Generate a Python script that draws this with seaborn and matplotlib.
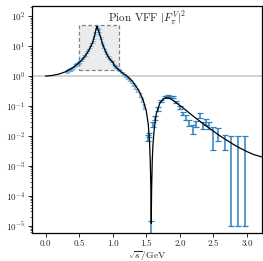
import numpy as np
import pandas as pd
import matplotlib
matplotlib.use("Agg")
import matplotlib.pyplot as plt
import matplotlib.patches as mpatches
import seaborn as sns

# ---- model curve ----
curve_x = [0.0, 0.1, 0.2, 0.3, 0.4, 0.5, 0.55, 0.6, 0.65, 0.7, 0.73, 0.75, 0.765,
           0.775, 0.78, 0.79, 0.8, 0.85, 0.9, 0.95, 1.0, 1.015, 1.02, 1.03, 1.05, 1.1,
           1.15, 1.2, 1.25, 1.3, 1.35, 1.4, 1.45, 1.5, 1.53, 1.55, 1.56, 1.57, 1.575,
           1.58, 1.59, 1.6, 1.62, 1.65, 1.7, 1.75, 1.8, 1.85, 1.9, 2.0, 2.1, 2.2, 2.3,
           2.4, 2.5, 2.6, 2.7, 2.8, 2.9, 3.0, 3.1, 3.22]
curve_y = [1.0, 1.05, 1.17, 1.4, 1.85, 2.8, 3.6, 5.0, 7.5, 13.0, 22.0, 35.0, 46.0,
           42.0, 36.0, 33.0, 28.0, 12.0, 6.2, 3.9, 2.9, 2.7, 2.3, 2.2, 2.0, 1.55,
           1.25, 1.05, 0.85, 0.65, 0.45, 0.3, 0.17, 0.07, 0.025, 0.006, 0.0015, 0.00015, 0.000012,
           0.00015, 0.0015, 0.005, 0.018, 0.055, 0.12, 0.17, 0.19, 0.18, 0.155, 0.105, 0.07, 0.046, 0.031,
           0.021, 0.0145, 0.010, 0.0072, 0.0052, 0.0039, 0.0030, 0.0024, 0.0020]

# ---- dense low-energy measurements ----
low_x = [0.32, 0.34, 0.36, 0.38, 0.40, 0.42, 0.44, 0.46, 0.48, 0.50, 0.52, 0.54,
         0.56, 0.58, 0.60, 0.62, 0.64, 0.66, 0.68, 0.70, 0.72, 0.74, 0.76, 0.77,
         0.78, 0.79, 0.80, 0.82, 0.84, 0.86, 0.88, 0.90, 0.92, 0.94, 0.96, 0.98,
         1.00, 1.02, 1.04, 1.06, 1.08, 1.10, 1.13, 1.16, 1.19, 1.22, 1.25, 1.28,
         1.31, 1.34, 1.37, 1.40, 1.43, 1.46]
low_y = [1.42, 1.52, 1.62, 1.72, 1.85, 2.0, 2.2, 2.4, 2.6, 2.85, 3.15, 3.6,
         4.1, 4.7, 5.3, 6.4, 7.6, 9.3, 11.6, 14.0, 19.5, 28.0, 42.0, 44.0,
         38.0, 33.0, 27.0, 19.0, 13.0, 9.6, 7.4, 6.0, 5.0, 4.3, 3.7, 3.2,
         2.8, 2.35, 2.15, 1.95, 1.75, 1.6, 1.4, 1.2, 1.03, 0.9, 0.78, 0.66,
         0.54, 0.43, 0.33, 0.24, 0.16, 0.1]
low_rel_err = [0.12, 0.12, 0.12, 0.12, 0.11, 0.11, 0.11, 0.11, 0.1, 0.1, 0.1, 0.1,
               0.1, 0.1, 0.1, 0.1, 0.1, 0.1, 0.1, 0.1, 0.1, 0.1, 0.1, 0.1,
               0.1, 0.1, 0.1, 0.1, 0.1, 0.1, 0.1, 0.1, 0.1, 0.1, 0.1, 0.1,
               0.1, 0.1, 0.1, 0.1, 0.1, 0.1, 0.12, 0.12, 0.12, 0.12, 0.12, 0.12,
               0.13, 0.13, 0.14, 0.15, 0.16, 0.18]

# ---- sparse high-energy measurements ----
high_x = [1.52, 1.54, 1.575, 1.60, 1.63, 1.67, 1.72, 1.78, 1.82, 1.86, 1.90, 1.95,
          2.00, 2.05, 2.09, 2.14, 2.19, 2.24, 2.30, 2.34, 2.39, 2.44, 2.49, 2.57,
          2.67, 2.77, 2.87, 2.97]
high_y = [0.009, 0.011, 0.000005, 0.025, 0.04, 0.08, 0.15, 0.2, 0.21, 0.205, 0.2, 0.14,
          0.09, 0.057, 0.042, 0.028, 0.018, 0.026, 0.05, 0.023, 0.03, 0.023, 0.0084, 0.013,
          0.0065, 0.004, 0.004, 0.004]
high_err_lo = [0.002, 0.002, 0.0000049, 0.005, 0.006, 0.01, 0.015, 0.015, 0.015, 0.015, 0.015, 0.012,
               0.01, 0.008, 0.008, 0.007, 0.006, 0.006, 0.01, 0.006, 0.007, 0.006, 0.005, 0.006,
               0.0032, 0.00399, 0.00399, 0.00399]
high_err_hi = [0.002, 0.002, 0.000009, 0.005, 0.006, 0.01, 0.015, 0.015, 0.015, 0.015, 0.015, 0.012,
               0.01, 0.008, 0.008, 0.007, 0.006, 0.006, 0.01, 0.006, 0.007, 0.006, 0.012, 0.006,
               0.0045, 0.006, 0.006, 0.006]

title_text = r"Pion VFF $|F_\pi^V|^2$"
xlabel_text = r"$\sqrt{s}/\mathrm{GeV}$"
x_ticks = [0.0, 0.5, 1.0, 1.5, 2.0, 2.5, 3.0]

sns.set_style("ticks")
plt.rcParams["font.family"] = ["serif"]
plt.rcParams["font.serif"] = ["cmr10", "DejaVu Serif"]
plt.rcParams["mathtext.fontset"] = "cm"
plt.rcParams["axes.formatter.use_mathtext"] = True
plt.rcParams["axes.unicode_minus"] = False

fig = plt.figure(figsize=(2.63, 2.61), dpi=100)
ax = fig.add_axes([0.122, 0.108, 0.873, 0.869])

ax.set_yscale("log")

# shaded zoom box
rect = mpatches.Rectangle((0.5, 1.55), 0.6, 50 - 1.55, facecolor="#ececec",
                          edgecolor="#808080", linestyle=(0, (3, 2)), linewidth=0.9, zorder=1)
ax.add_patch(rect)

ax.axhline(1.0, color="#cccccc", linewidth=1.2, zorder=1.5)

blue = "#2f80bf"
low_err = [y * r for y, r in zip(low_y, low_rel_err)]
ax.errorbar(low_x, low_y, yerr=low_err, fmt="none", ecolor="#5aa0d6",
            elinewidth=1.1, capsize=1.3, capthick=0.6, alpha=0.85, zorder=2)
ax.errorbar(high_x, high_y, yerr=[high_err_lo, high_err_hi], fmt="none",
            ecolor=blue, elinewidth=1.1, capsize=2.0, capthick=0.9, zorder=2)

df_curve = pd.DataFrame({"x": curve_x, "y": curve_y})
sns.lineplot(data=df_curve, x="x", y="y", color="black", linewidth=0.9, sort=False,
             estimator=None, ax=ax, zorder=3)

ax.set_xlim(-0.2, 3.22)
ax.set_ylim(5.8e-6, 2.2e2)
ax.set_xticks(x_ticks)
ax.set_xticklabels([f"{t:.1f}" for t in x_ticks])
ax.set_xlabel(xlabel_text, fontsize=7, labelpad=0.3)
ax.set_ylabel("")
ax.tick_params(axis="both", labelsize=6.5, length=3, width=0.7, pad=2)
ax.tick_params(axis="y", which="minor", length=1.8, width=0.5)
for s in ax.spines.values():
    s.set_linewidth(0.9)
    s.set_color("black")

ax.text(0.5, 0.985, title_text, transform=ax.transAxes, ha="center", va="top", fontsize=8)

fig.savefig("out.png", dpi=100)
